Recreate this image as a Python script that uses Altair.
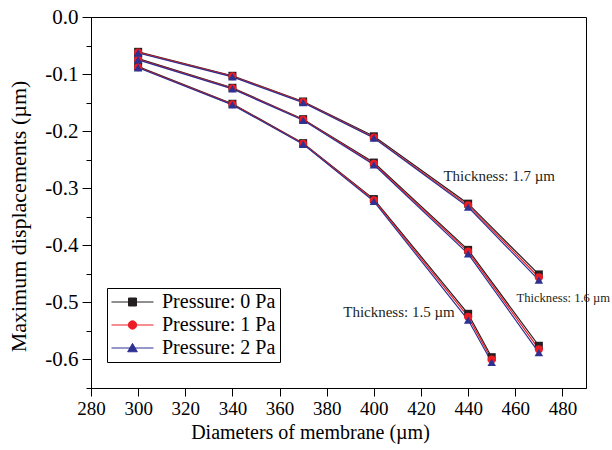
import altair as alt
import pandas as pd

# ---- data ----
diam_thick = [300, 340, 370, 400, 440, 470]   # 1.7 and 1.6 µm membranes
diam_thin = [300, 340, 370, 400, 440, 450]    # 1.5 µm membrane
thicknesses = ["1.7 µm", "1.6 µm", "1.5 µm"]
pressures = ["Pressure: 0 Pa", "Pressure: 1 Pa", "Pressure: 2 Pa"]

t17_p0 = [-0.061, -0.103, -0.148, -0.209, -0.327, -0.451]
t17_p1 = [-0.062, -0.104, -0.149, -0.211, -0.330, -0.456]
t17_p2 = [-0.063, -0.105, -0.150, -0.212, -0.333, -0.461]
t16_p0 = [-0.073, -0.124, -0.179, -0.255, -0.408, -0.576]
t16_p1 = [-0.074, -0.125, -0.180, -0.257, -0.411, -0.582]
t16_p2 = [-0.075, -0.126, -0.181, -0.259, -0.415, -0.588]
t15_p0 = [-0.087, -0.152, -0.221, -0.319, -0.520, -0.596]
t15_p1 = [-0.088, -0.153, -0.222, -0.321, -0.525, -0.600]
t15_p2 = [-0.089, -0.154, -0.223, -0.323, -0.531, -0.605]

ann_text = ["Thickness: 1.7 µm", "Thickness: 1.6 µm", "Thickness: 1.5 µm"]
ann_x = [429.5, 460.5, 387.0]
ann_y = [-0.278, -0.492, -0.516]

y_major = [0.0, -0.1, -0.2, -0.3, -0.4, -0.5, -0.6]
y_minor = [-0.05, -0.15, -0.25, -0.35, -0.45, -0.55, -0.65]

colors = ["#231f20", "#ed1c24", "#2e3192"]
shapes = ["square", "circle", "triangle-up"]
legend_paths = [
    "M-1,0H1M-0.19,-0.19H0.19V0.19H-0.19Z",
    "M-1,0H1M0.2,0A0.2,0.2,0,1,1,-0.2,0A0.2,0.2,0,1,1,0.2,0Z",
    "M-1,0H1M0,-0.22L0.23,0.18H-0.23Z",
]

series = {
    ("1.7 µm", 0): (diam_thick, t17_p0), ("1.7 µm", 1): (diam_thick, t17_p1), ("1.7 µm", 2): (diam_thick, t17_p2),
    ("1.6 µm", 0): (diam_thick, t16_p0), ("1.6 µm", 1): (diam_thick, t16_p1), ("1.6 µm", 2): (diam_thick, t16_p2),
    ("1.5 µm", 0): (diam_thin, t15_p0), ("1.5 µm", 1): (diam_thin, t15_p1), ("1.5 µm", 2): (diam_thin, t15_p2),
}
rows = []
for (th, pi), (xs, ys) in series.items():
    for xv, yv in zip(xs, ys):
        rows.append({"diameter": xv, "disp": yv, "thickness": th, "pressure": pressures[pi]})
df = pd.DataFrame(rows)
ann = pd.DataFrame({"text": ann_text, "x": ann_x, "y": ann_y})

FONT = "Liberation Serif"

xscale = alt.Scale(domain=[280, 490], nice=False, zero=False)
yscale = alt.Scale(domain=[-0.65, 0], nice=False, zero=False)

xaxis = alt.Axis(
    values=list(range(280, 491, 10)),
    labelExpr="datum.value % 20 == 0 ? datum.label : ''",
    format="d",
    tickSize={"condition": {"test": "datum.value % 20 == 0", "value": 8}, "value": 4},
    grid=False, title="Diameters of membrane (µm)",
    labelFont=FONT, labelFontSize=19, titleFont=FONT, titleFontSize=20, titleFontWeight="normal",
    labelColor="black", titleColor="black", tickColor="black", domainColor="black",
    labelPadding=3, labelFlush=False, labelOverlap=False,
    titleX=219, titleY=50, titleAlign="center", titleBaseline="alphabetic",
)
yaxis_major = alt.Axis(
    orient="left",
    values=y_major,
    labelExpr="datum.value < 0 ? '-' + format(-datum.value, '.1f') : format(datum.value, '.1f')",
    tickSize=9,
    grid=False, title="Maximum displacements (µm)",
    labelFont=FONT, labelFontSize=21, titleFont=FONT, titleFontSize=22, titleFontWeight="normal",
    labelColor="black", titleColor="black", tickColor="black", domainColor="black",
    labelPadding=4, labelFlush=False, labelOverlap=False,
    titleX=-66, titleY=199, titleAlign="center", titleBaseline="alphabetic",
)
yaxis_minor = alt.Axis(
    orient="left", values=y_minor, tickSize=5, labels=False, title=None, grid=False,
    tickColor="black", domainColor="black",
)

base = alt.Chart(df)
layers = []
for i, p in enumerate(pressures):
    layers.append(
        base.transform_filter(alt.datum.pressure == p)
        .mark_line(color=colors[i], strokeWidth=1.2)
        .encode(
            x=alt.X("diameter:Q", scale=xscale, axis=xaxis),
            y=alt.Y("disp:Q", scale=yscale,
                    axis=yaxis_major if i == 0 else (yaxis_minor if i == 1 else None)),
            detail="thickness:N",
        )
    )
for i, p in enumerate(pressures):
    layers.append(
        base.transform_filter(alt.datum.pressure == p)
        .mark_point(shape=shapes[i], filled=True, color=colors[i], size=64 if i < 2 else 72, opacity=1)
        .encode(x=alt.X("diameter:Q", scale=xscale), y=alt.Y("disp:Q", scale=yscale, axis=None))
    )

legend = alt.Legend(
    orient="none", legendX=16, legendY=271, title=None,
    strokeColor="black", fillColor="white", padding=4,
    labelFont=FONT, labelFontSize=20, labelColor="black", labelOffset=8,
    symbolSize=1764, symbolStrokeWidth=1, clipHeight=20, rowPadding=3,
)
leg_df = pd.DataFrame({"pressure": pressures})
legend_layer = (
    alt.Chart(leg_df)
    .transform_filter("false")
    .mark_point(filled=True, opacity=1)
    .encode(
        shape=alt.Shape("pressure:N", scale=alt.Scale(domain=pressures, range=legend_paths), legend=legend),
        fill=alt.Fill("pressure:N", scale=alt.Scale(domain=pressures, range=colors), legend=legend),
        stroke=alt.Stroke("pressure:N", scale=alt.Scale(domain=pressures, range=colors), legend=legend),
    )
)
layers.append(legend_layer)

ann_base = alt.Chart(ann)
text_main = ann_base.transform_filter(alt.datum.text != ann_text[1]).mark_text(
    align="left", baseline="middle", font=FONT, fontSize=15, color="#231f20"
).encode(x=alt.X("x:Q", scale=xscale), y=alt.Y("y:Q", scale=yscale, axis=None), text="text:N")
text_narrow = ann_base.transform_filter(alt.datum.text == ann_text[1]).mark_text(
    align="left", baseline="middle", font=FONT, fontSize=12.6, color="#231f20"
).encode(x=alt.X("x:Q", scale=xscale), y=alt.Y("y:Q", scale=yscale, axis=None), text="text:N")
layers += [text_main, text_narrow]

chart = (
    alt.layer(*layers)
    .resolve_axis(y="independent")
    .properties(
        width=495, height=371,
        autosize=alt.AutoSizeParams(type="none"),
        padding={"left": 91, "top": 17, "right": 26, "bottom": 62},
        background="white",
    )
    .configure_view(stroke="black", strokeWidth=1)
)

chart.save("out.html", embed_options={"renderer": "svg", "actions": False})
